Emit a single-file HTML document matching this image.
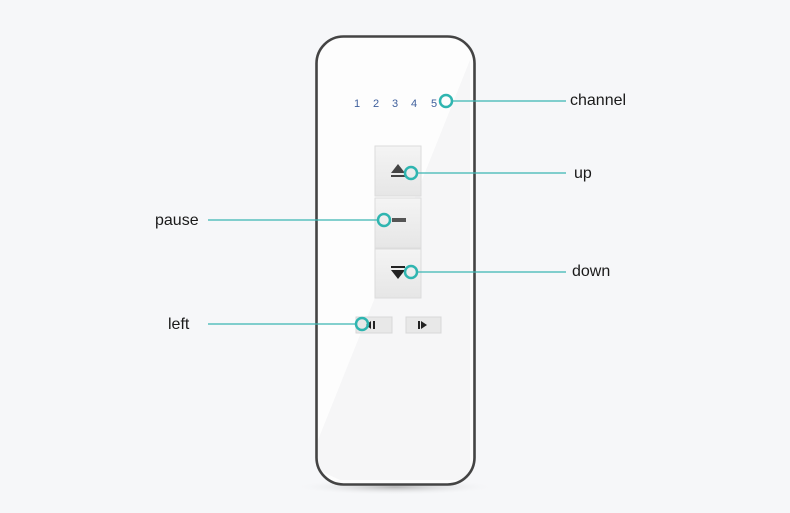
<!DOCTYPE html>
<html><head><meta charset="utf-8"><style>
html,body{margin:0;padding:0;background:#f6f7f9;}
svg{display:block}
text{font-family:"Liberation Sans",sans-serif;}
</style></head><body>
<svg width="790" height="513" viewBox="0 0 790 513" xmlns="http://www.w3.org/2000/svg">
<defs>
<radialGradient id="sh" cx="0.5" cy="0.5" r="0.5">
<stop offset="0" stop-color="#9a9a9a" stop-opacity="0.7"/>
<stop offset="1" stop-color="#f6f7f9" stop-opacity="0"/>
</radialGradient>
<linearGradient id="btn" x1="0" y1="0" x2="0" y2="1">
<stop offset="0" stop-color="#f4f4f4"/><stop offset="1" stop-color="#e6e6e6"/>
</linearGradient>
</defs>
<rect width="790" height="513" fill="#f6f7f9"/>
<ellipse cx="395" cy="487" rx="100" ry="8" fill="url(#sh)"/>
<rect x="316.5" y="36.5" width="158" height="448" rx="27" fill="#fdfdfd"/>
<polygon points="470,60 470,480 340,480 318,470 318,440" fill="#f6f6f7"/>
<rect x="316.5" y="36.5" width="158" height="448" rx="27" fill="none" stroke="#444" stroke-width="2.6"/>
<g fill="#3e5f9c" font-size="11">
<text x="354" y="107">1</text><text x="373" y="107">2</text><text x="392" y="107">3</text><text x="411" y="107">4</text><text x="431" y="107">5</text>
</g>
<rect x="375" y="146" width="46" height="50" fill="url(#btn)" stroke="#dcdcdc"/>
<rect x="375" y="198" width="46" height="50" fill="url(#btn)" stroke="#dcdcdc"/>
<rect x="375" y="249" width="46" height="49" fill="url(#btn)" stroke="#dcdcdc"/>
<polygon points="398,164 405,173 391,173" fill="#444"/><rect x="391" y="175" width="14" height="2" fill="#444"/>
<rect x="392" y="218" width="14" height="4" fill="#555"/>
<rect x="391" y="266" width="14" height="2" fill="#222"/><polygon points="391,270 405,270 398,279" fill="#222"/>
<rect x="356" y="317" width="36" height="16" fill="#e8e8e8" stroke="#d8d8d8"/>
<rect x="406" y="317" width="35" height="16" fill="#e8e8e8" stroke="#d8d8d8"/>
<polygon points="366,325 371,321 371,329" fill="#222"/><rect x="373" y="321" width="2" height="8" fill="#222"/>
<rect x="418" y="321" width="2" height="8" fill="#222"/><polygon points="421,321 427,325 421,329" fill="#222"/>
<g stroke="#3bb6b3" stroke-width="1.3" fill="none">
<line x1="452" y1="101" x2="566" y2="101"/>
<line x1="417" y1="173" x2="566" y2="173"/>
<line x1="417" y1="272" x2="566" y2="272"/>
<line x1="208" y1="220" x2="378" y2="220"/>
<line x1="208" y1="324" x2="356" y2="324"/>
</g>
<g stroke="#2fb5b0" stroke-width="2.5" fill="none">
<circle cx="446" cy="101" r="6"/>
<circle cx="411" cy="173" r="6"/>
<circle cx="384" cy="220" r="6"/>
<circle cx="411" cy="272" r="6"/>
<circle cx="362" cy="324" r="6"/>
</g>
<g fill="#1a1a1a" font-size="16">
<text x="570" y="105">channel</text>
<text x="574" y="178">up</text>
<text x="572" y="276">down</text>
<text x="155" y="225">pause</text>
<text x="168" y="329">left</text>
</g>
</svg>
</body></html>
